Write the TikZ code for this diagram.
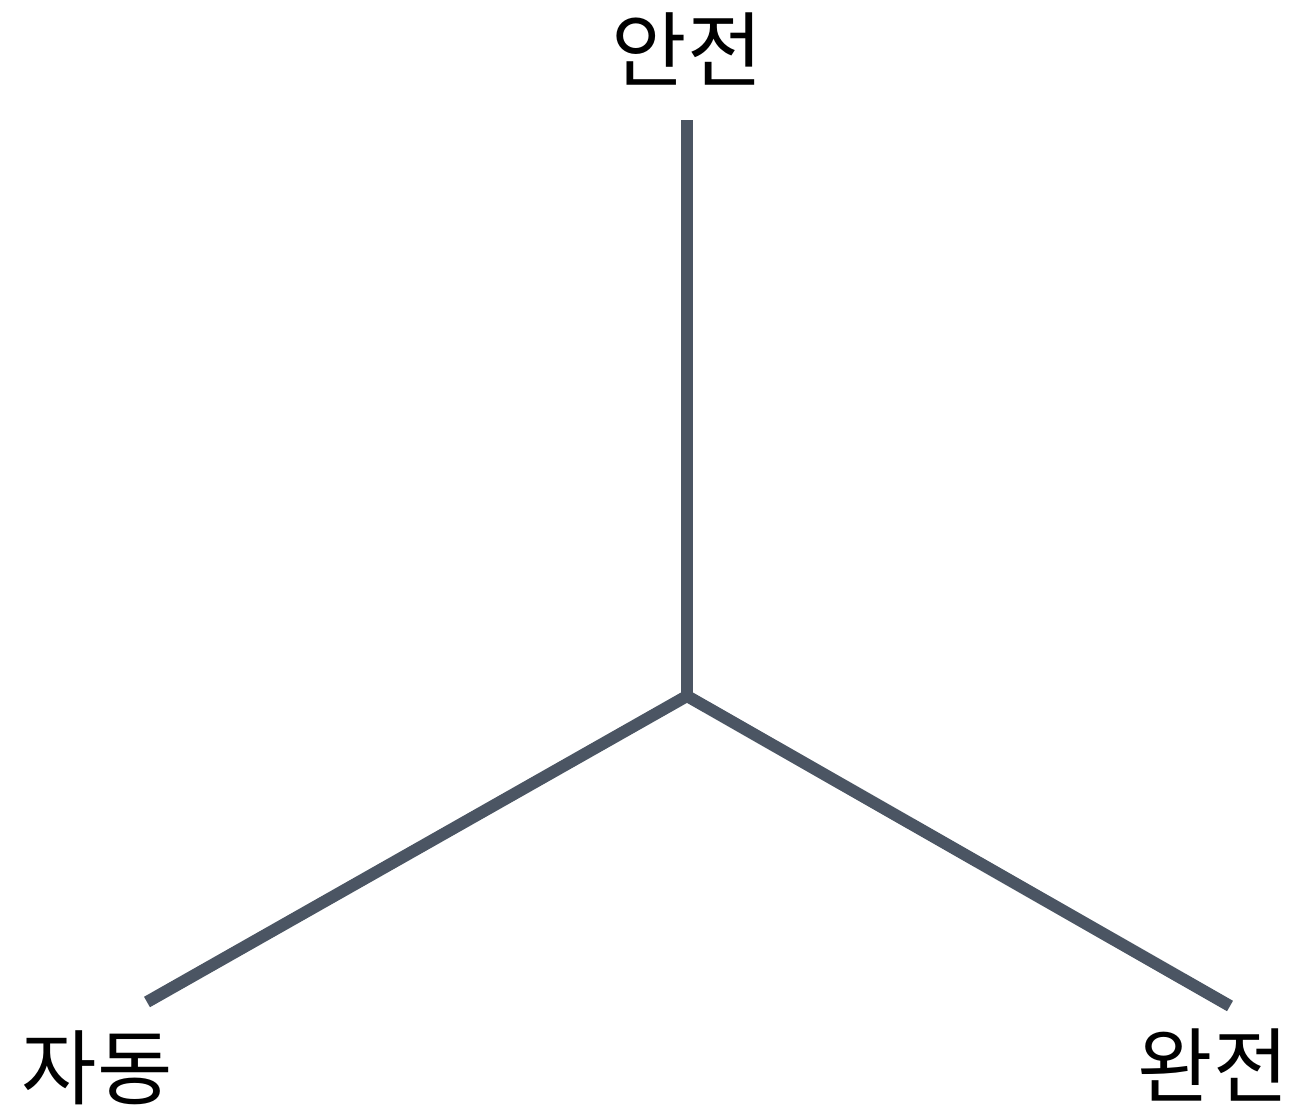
\documentclass[tikz,border=0pt]{standalone}
\usepackage{fontspec}
\usepackage{xcolor}
\setmainfont{Noto Sans CJK KR}
\definecolor{clrAxis}{HTML}{4B5563}

\begin{document}
\begin{tikzpicture}[
    x=0.5pt, y=-0.5pt,
    axis/.style={line width=6pt, draw=clrAxis, line cap=butt},
    lbl/.style={font=\fontsize{41}{48}\selectfont, text=black, inner sep=0pt},
]
\useasboundingbox (0,0) rectangle (1297,1111);

% centre and arm ends
\coordinate (hub) at (687, 696);
\coordinate (top) at (687, 120);
\coordinate (left) at (147, 1002);
\coordinate (right) at (1230, 1006);

\draw[axis] (hub) -- (top);
\draw[axis] (hub) -- (left);
\draw[axis] (hub) -- (right);

% labels
\node[lbl] (safe) at (687, 49) {안전};
\node[lbl] (auto) at (97, 1068) {자동};
\node[lbl] (full) at (1213, 1065) {완전};

\end{tikzpicture}
\end{document}
